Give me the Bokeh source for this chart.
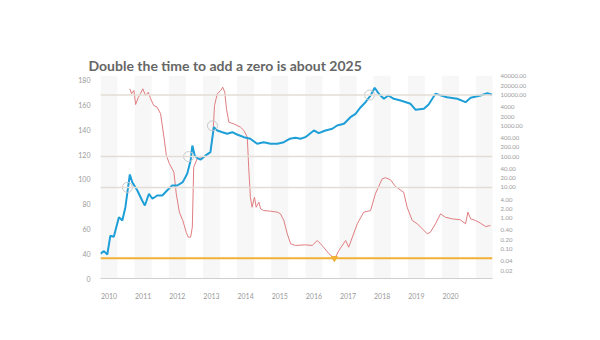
from bokeh.plotting import figure
from bokeh.models import Range1d, LogAxis, FixedTicker, LogScale, Span
from bokeh.embed import file_html
from bokeh.resources import INLINE

title_text = "Double the time to add a zero is about 2025"

# x positions are chart-years
blue_t = [2009.75, 2009.85, 2009.95, 2010.04, 2010.14, 2010.29, 2010.39, 2010.48, 2010.61, 2010.68,
          2010.83, 2010.97, 2011.05, 2011.17, 2011.27, 2011.41, 2011.56, 2011.70, 2011.85, 2012.00,
          2012.16, 2012.29, 2012.39, 2012.44, 2012.51, 2012.58, 2012.68, 2012.83, 2012.97, 2013.07,
          2013.17, 2013.32, 2013.46, 2013.61, 2013.75, 2013.95, 2014.14, 2014.34, 2014.53, 2014.73,
          2014.93, 2015.12, 2015.29, 2015.46, 2015.61, 2015.75, 2016.00, 2016.14, 2016.34, 2016.54,
          2016.68, 2016.88, 2017.07, 2017.22, 2017.37, 2017.51, 2017.66, 2017.78, 2017.90, 2018.05,
          2018.18, 2018.34, 2018.54, 2018.83, 2018.98, 2019.22, 2019.36, 2019.56, 2019.90, 2020.20,
          2020.44, 2020.59, 2020.88, 2021.08, 2021.22]
blue_price = [0.070, 0.085, 0.066, 0.27, 0.25, 1.08, 0.84, 2.28, 26.2, 14.8,
              7.9, 3.76, 2.58, 6.2, 4.27, 5.46, 5.46, 7.9, 11.5, 11.5,
              14.8, 27.7, 74.7, 229, 109, 91, 79, 109, 139, 902,
              704, 619, 550, 619, 522, 427, 378, 260, 294, 260,
              260, 294, 378, 408, 378, 427, 704, 575, 704, 800,
              1023, 1161, 1901, 2452, 4018, 5838, 9638, 17140, 10940, 7530,
              9638, 7530, 6625, 5177, 3306, 3562, 4918, 10940, 8490, 7530,
              5838, 8110, 9638, 11430, 10140]

red_t = [2010.61, 2010.66, 2010.73, 2010.78, 2010.86, 2010.92, 2010.99, 2011.07, 2011.15, 2011.22,
         2011.31, 2011.41, 2011.51, 2011.61, 2011.68, 2011.77, 2011.90, 2011.97, 2012.06, 2012.16,
         2012.26, 2012.32, 2012.39, 2012.44, 2012.48, 2012.58, 2012.78, 2012.97, 2013.05, 2013.09,
         2013.17, 2013.27, 2013.33, 2013.39, 2013.44, 2013.51, 2013.65, 2013.85, 2013.95, 2014.05,
         2014.09, 2014.14, 2014.19, 2014.26, 2014.31, 2014.39, 2014.44, 2014.53, 2014.73, 2014.93,
         2015.02, 2015.12, 2015.22, 2015.32, 2015.46, 2015.75, 2015.95, 2016.10, 2016.24, 2016.44,
         2016.61, 2016.73, 2016.93, 2017.02, 2017.27, 2017.46, 2017.66, 2017.80, 2018.00, 2018.10,
         2018.24, 2018.39, 2018.63, 2018.73, 2018.88, 2019.03, 2019.17, 2019.32, 2019.41, 2019.56,
         2019.71, 2019.85, 2020.05, 2020.29, 2020.44, 2020.51, 2020.59, 2020.73, 2020.88, 2021.03,
         2021.17]
red_value = [173.3, 169.3, 171.9, 160.6, 166.5, 169.3, 173.3, 167.9, 170.5, 165.2,
             159.8, 158.4, 153.1, 134.2, 119.4, 112.7, 105.9, 88.4, 73.6, 66.9,
             57.4, 53.4, 53.4, 61.5, 109.9, 116.7, 118.0, 122.1, 139.6, 159.8,
             169.3, 171.9, 174.6, 170.5, 157.1, 146.3, 145.0, 142.3, 139.6, 134.2,
             109.9, 85.7, 77.6, 85.7, 77.6, 81.7, 76.3, 74.9, 74.4, 73.6,
             72.3, 66.9, 56.1, 48.0, 46.7, 47.2, 46.7, 50.7, 46.7, 40.0,
             35.9, 42.6, 50.7, 45.3, 64.2, 73.6, 74.9, 88.4, 100.6, 101.4,
             99.8, 94.3, 89.7, 77.6, 66.9, 64.2, 60.2, 56.1, 57.4, 64.2,
             72.3, 69.5, 68.2, 67.4, 64.2, 73.6, 68.2, 66.9, 64.7, 62.0,
             62.8]

milestone_t = [2010.54, 2012.33, 2013.03, 2017.63]
milestone_price = [10, 100, 1000, 10000]
reference_prices = [10000, 100, 10]
floor_price = 0.05
floor_touch_t = [2016.60]

year_ticks = list(range(2010, 2021))
stripe_years = list(range(2010, 2022))
left_ticks = [20, 40, 60, 80, 100, 120, 140, 160, 180]
left_labels = ["0", "40", "60", "80", "100", "120", "140", "160", "180"]
right_ticks = [40000, 20000, 10000, 4000, 2000, 1000, 400, 200, 100, 40, 20, 10,
               4, 2, 1, 0.4, 0.2, 0.1, 0.04, 0.02]
right_labels = ["40000.00", "20000.00", "10000.00", "4000", "2000", "1000.00", "400.00",
                "200.00", "100.00", "40.00", "20.00", "10.00", "4.00", "2.00", "1.00",
                "0.40", "0.20", "0.10", "0.04", "0.02"]

FONT = "Lato"
LBL = "#9a9a9a"

p = figure(width=600, height=340, output_backend="svg", toolbar_location=None,
           x_range=Range1d(2009.751, 2021.23), y_range=Range1d(20, 184.04),
           min_border_left=100, min_border_right=108, min_border_top=75, min_border_bottom=62,
           title=title_text)
p.extra_y_ranges = {"price": Range1d(0.011, 42950)}
p.extra_y_scales = {"price": LogScale()}

p.title.text_font = FONT
p.title.text_font_size = "14px"
p.title.text_font_style = "bold"
p.title.text_color = "#666666"
p.title.offset = -12
p.title.standoff = 4

p.outline_line_color = None
p.background_fill_color = "white"
p.border_fill_color = "white"
p.xgrid.visible = False
p.ygrid.visible = False

# vertical stripes
p.quad(left=[y - 0.25 for y in stripe_years], right=[y + 0.25 for y in stripe_years],
       bottom=20, top=184.04, fill_color="#f7f7f7", line_color=None)

for rp in reference_prices:
    p.add_layout(Span(location=rp, dimension="width", y_range_name="price",
                      line_color="#e4ddd5", line_width=1.5))
p.add_layout(Span(location=floor_price, dimension="width", y_range_name="price",
                  line_color="#f2b134", line_width=2))

p.line(red_t, red_value, line_color="#e07d80", line_width=1.0)
p.line(blue_t, blue_price, y_range_name="price", line_color="#1f9fd8", line_width=2)
p.scatter(milestone_t, milestone_price, y_range_name="price", size=10,
          fill_color=None, line_color="#c8c8c8", line_width=1)
p.scatter(floor_touch_t, [floor_price], y_range_name="price", marker="inverted_triangle",
          size=6, fill_color="#f2b134", line_color="#f2b134")

# axes
xa = p.xaxis[0]
xa.ticker = FixedTicker(ticks=year_ticks)
xa.axis_line_color = "#cfcfcf"
xa.major_tick_line_color = None
xa.minor_tick_line_color = None
xa.major_label_text_font = FONT
xa.major_label_text_font_size = "7px"
xa.major_label_text_color = LBL
xa.major_label_standoff = 8

ya = p.yaxis[0]
ya.ticker = FixedTicker(ticks=left_ticks)
ya.major_label_overrides = {t: l for t, l in zip(left_ticks, left_labels)}
ya.axis_line_color = None
ya.major_tick_line_color = None
ya.minor_tick_line_color = None
ya.major_label_text_font = FONT
ya.major_label_text_font_size = "7px"
ya.major_label_text_color = LBL
ya.major_label_standoff = 4

ra = LogAxis(y_range_name="price", ticker=FixedTicker(ticks=right_ticks))
ra.major_label_overrides = {t: l for t, l in zip(right_ticks, right_labels)}
ra.axis_line_color = None
ra.major_tick_line_color = None
ra.minor_tick_line_color = None
ra.major_label_text_font = FONT
ra.major_label_text_font_size = "6px"
ra.major_label_text_color = LBL
ra.major_label_standoff = 2
p.add_layout(ra, "right")

open("out.html", "w").write(file_html(p, INLINE))
